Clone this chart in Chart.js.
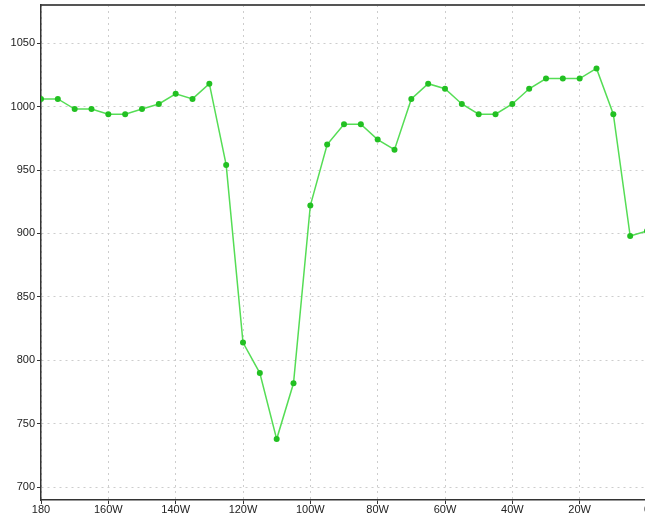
<!DOCTYPE html>
<html>
<head>
<meta charset="utf-8">
<script src="https://cdn.jsdelivr.net/npm/chart.js@4/dist/chart.umd.min.js"></script>
<style>
  html, body { margin: 0; padding: 0; background: #fff; overflow: hidden; }
  #wrap { width: 645px; height: 520px; overflow: hidden; position: relative; }
  canvas { display: block; }
</style>
</head>
<body>
<div id="wrap"><canvas id="c" width="680" height="520"></canvas></div>
<script>
// Longitude in degrees west (180 .. 0), every 5 degrees
const longitudes = [180,175,170,165,160,155,150,145,140,135,130,125,120,115,110,105,100,95,90,85,80,75,70,65,60,55,50,45,40,35,30,25,20,15,10,5,0];
// Pressure values along the section
const pressure = [1006,1006,998,998,994,994,998,1002,1010,1006,1018,954,814,790,738,782,922,970,986,986,974,966,1006,1018,1014,1002,994,994,1002,1014,1022,1022,1022,1030,994,898,902];
// Axis tick positions
const xTicks = [180,160,140,120,100,80,60,40,20,0];
const yTicks = [700,750,800,850,900,950,1000,1050];

const points = longitudes.map((lon, i) => ({ x: lon, y: pressure[i] }));

const fmtLon = v => (v === 180 || v === 0) ? String(v) : v + 'W';

const tickFont = { family: '"Liberation Sans", Arial, sans-serif', size: 11 };

const dottedGrid = {
  color: '#cdcdcd', lineWidth: 1,
  drawTicks: true, tickLength: 4, tickColor: '#333', tickBorderDash: [], tickWidth: 1
};

new Chart(document.getElementById('c'), {
  type: 'line',
  data: {
    datasets: [{
      data: points,
      borderColor: '#55dd55',
      borderWidth: 1.5,
      backgroundColor: '#22c022',
      pointBackgroundColor: '#22c022',
      pointBorderColor: '#22c022',
      pointRadius: 3,
      pointBorderWidth: 0,
      tension: 0,
      fill: false
    }]
  },
  options: {
    responsive: false,
    animation: false,
    layout: { padding: { top: 5, right: 33, left: 0, bottom: 0 } },
    plugins: { legend: { display: false }, tooltip: { enabled: false } },
    scales: {
      x: {
        type: 'linear',
        reverse: true,
        min: 0,
        max: 180,
        afterBuildTicks: s => { s.ticks = xTicks.map(v => ({ value: v })); },
        afterFit: s => { s.height = 20; },
        ticks: { callback: fmtLon, font: tickFont, color: '#222', padding: -1, maxRotation: 0, autoSkip: false },
        grid: dottedGrid,
        border: { display: true, color: '#333', width: 1.5, dash: [2, 4] }
      },
      xTop: {
        type: 'linear',
        position: 'top',
        reverse: true,
        min: 0,
        max: 180,
        afterFit: s => { s.height = 0; },
        ticks: { display: false },
        grid: { display: false, drawTicks: false },
        border: { display: true, color: '#555', width: 2 }
      },
      y: {
        min: 690,
        max: 1080,
        afterBuildTicks: s => { s.ticks = yTicks.map(v => ({ value: v })); },
        afterFit: s => { s.width = 41; s.paddingTop = 0; s.paddingBottom = 0; },
        ticks: { callback: v => String(v), font: tickFont, color: '#222', padding: 2 },
        grid: dottedGrid,
        border: { display: true, color: '#333', width: 1.5, dash: [2, 4] }
      }
    }
  }
});
</script>
</body>
</html>
